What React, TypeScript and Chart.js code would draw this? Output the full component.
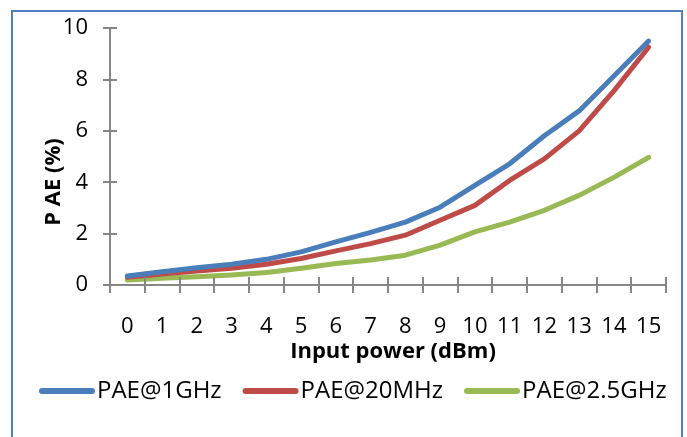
import React, { useEffect, useRef } from "react";
import { Chart, registerables } from "chart.js";

Chart.register(...registerables);

const categories = ["0", "1", "2", "3", "4", "5", "6", "7", "8", "9", "10", "11", "12", "13", "14", "15"];
const pae1GHz = [0.35, 0.52, 0.67, 0.81, 1.0, 1.29, 1.68, 2.05, 2.45, 3.03, 3.88, 4.72, 5.81, 6.78, 8.14, 9.5];
const pae20MHz = [0.3, 0.43, 0.54, 0.65, 0.81, 1.03, 1.33, 1.61, 1.94, 2.52, 3.1, 4.07, 4.91, 6.0, 7.56, 9.26];
const pae25GHz = [0.19, 0.26, 0.32, 0.39, 0.49, 0.65, 0.84, 0.97, 1.16, 1.55, 2.07, 2.45, 2.91, 3.49, 4.19, 4.97];
const yTicks = [0, 2, 4, 6, 8, 10];
const seriesLabels = ["PAE@1GHz", "PAE@20MHz", "PAE@2.5GHz"];
const seriesColors = ["#4A7EBB", "#BE4B48", "#98B954"];
const xTitle = "Input power (dBm)";
const yTitle = "P AE (%)";

const FONT = "'Open Sans'";
const AXIS = "#868686";
const FRAME = "#4F81BD";

const decorPlugin = {
  id: "decor",
  beforeDraw(chart: any) {
    const ctx = chart.ctx;
    ctx.save();
    ctx.fillStyle = "#ffffff";
    ctx.fillRect(0, 0, chart.width, chart.height);
    ctx.strokeStyle = FRAME;
    ctx.lineWidth = 2;
    ctx.beginPath();
    ctx.moveTo(12, chart.height + 2);
    ctx.lineTo(12, 11);
    ctx.lineTo(682, 11);
    ctx.lineTo(682, chart.height + 2);
    ctx.stroke();
    ctx.restore();
  },
  afterDraw(chart: any) {
    const ctx = chart.ctx;
    const area = chart.chartArea;
    const ys = chart.scales.y;
    ctx.save();
    // inner halves of crossing tick marks
    ctx.strokeStyle = AXIS;
    ctx.lineWidth = 2;
    ctx.beginPath();
    const n = categories.length;
    for (let k = 0; k <= n; k++) {
      const x = Math.round(area.left + (k * (area.right - area.left)) / n);
      ctx.moveTo(x, area.bottom);
      ctx.lineTo(x, area.bottom - 8);
    }
    ys.ticks.forEach((t: any) => {
      const y = Math.round(ys.getPixelForValue(t.value));
      ctx.moveTo(area.left, y);
      ctx.lineTo(area.left + 7, y);
    });
    ctx.stroke();

    // axis titles
    ctx.fillStyle = "#000";
    ctx.font = `bold 22px ${FONT}`;
    ctx.textAlign = "center";
    ctx.textBaseline = "middle";
    ctx.fillText(xTitle, (area.left + area.right) / 2 + 5, 352);
    ctx.save();
    ctx.translate(54, 182);
    ctx.rotate(-Math.PI / 2);
    ctx.fillText(yTitle, 0, 0);
    ctx.restore();

    // legend
    ctx.font = `24px ${FONT}`;
    ctx.textAlign = "left";
    ctx.textBaseline = "middle";
    let x = 40;
    const ly = 391;
    chart.data.datasets.forEach((ds: any) => {
      ctx.strokeStyle = ds.borderColor;
      ctx.lineWidth = 6;
      ctx.lineCap = "round";
      ctx.beginPath();
      ctx.moveTo(x + 2, ly);
      ctx.lineTo(x + 52, ly);
      ctx.stroke();
      ctx.fillStyle = "#000";
      ctx.fillText(ds.label, x + 57, ly);
      x += 57 + ctx.measureText(ds.label).width + 22;
    });
    ctx.restore();
  },
};

export default function App() {
  const ref = useRef<HTMLCanvasElement | null>(null);
  useEffect(() => {
    if (!ref.current) return;
    const series = [pae1GHz, pae20MHz, pae25GHz];
    const chart = new Chart(ref.current, {
      type: "line",
      data: {
        labels: categories,
        datasets: series.map((d, i) => ({
          label: seriesLabels[i],
          data: d,
          borderColor: seriesColors[i],
          backgroundColor: seriesColors[i],
          borderWidth: 5,
          pointRadius: 0,
          tension: 0,
          borderCapStyle: "round",
          borderJoinStyle: "round",
          fill: false,
        })),
      },
      options: {
        responsive: false,
        animation: false,
        layout: { padding: { left: 0, right: 21, top: 27, bottom: 0 } },
        plugins: { legend: { display: false }, tooltip: { enabled: false } },
        scales: {
          x: {
            offset: true,
            grid: { offset: true, drawOnChartArea: false, tickLength: 8, color: AXIS, lineWidth: 2 },
            border: { color: AXIS, width: 2 },
            ticks: { font: { family: FONT, size: 22 }, color: "#000", padding: 21, maxRotation: 0, autoSkip: false },
            afterFit: (s: any) => {
              s.height = 152;
            },
          },
          y: {
            min: 0,
            max: 10,
            afterBuildTicks: (s: any) => {
              s.ticks = yTicks.map((v) => ({ value: v }));
            },
            grid: { drawOnChartArea: false, tickLength: 7, color: AXIS, lineWidth: 2 },
            border: { color: AXIS, width: 2 },
            ticks: { font: { family: FONT, size: 22 }, color: "#000", padding: 15 },
            afterFit: (s: any) => {
              s.width = 110;
            },
          },
        },
      },
      plugins: [decorPlugin],
    } as any);
    return () => chart.destroy();
  }, []);
  return (
    <div style={{ position: "absolute", left: 0, top: 0, width: 687, height: 437 }}>
      <canvas ref={ref} width={687} height={437} style={{ display: "block" }} />
    </div>
  );
}
